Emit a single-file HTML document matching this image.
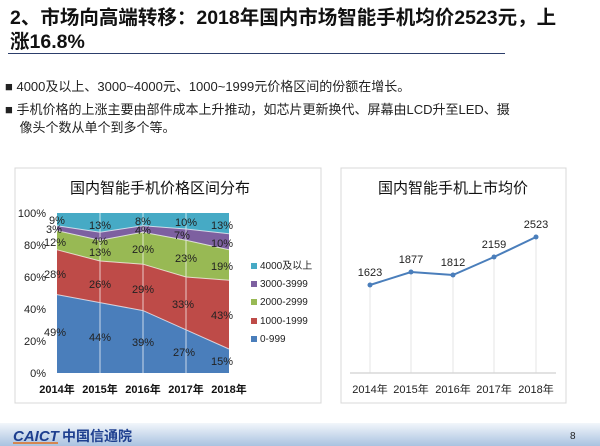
<!DOCTYPE html>
<html><head><meta charset="utf-8"><style>
body{margin:0;width:600px;height:446px;background:#fff;position:relative;overflow:hidden;font-family:"Liberation Sans","Noto Sans CJK SC",sans-serif}
.t{position:absolute;white-space:nowrap}
</style></head><body>
<div class="t" style="left:10px;top:6px;font-size:19.5px;font-weight:bold;color:#111;line-height:24px">2、市场向高端转移：2018年国内市场智能手机均价2523元，上<br>涨16.8%</div>
<div style="position:absolute;left:8px;top:53px;width:497px;height:1px;background:#2c3e6b"></div>
<div class="t" style="left:5px;top:76px;font-size:13px;color:#222">■ 4000及以上、3000~4000元、1000~1999元价格区间的份额在增长。</div>
<div class="t" style="left:5px;top:101px;font-size:13px;color:#222;line-height:18px">■ 手机价格的上涨主要由部件成本上升推动，如芯片更新换代、屏幕由LCD升至LED、摄<br>&nbsp;&nbsp;&nbsp;&nbsp;像头个数从单个到多个等。</div>
<svg style="position:absolute;left:0;top:0" width="600" height="446" font-family="Liberation Sans, Noto Sans CJK SC, sans-serif">
<rect x="15" y="168" width="306" height="235" fill="none" stroke="#d8d8d8"/>
<rect x="341" y="168" width="225" height="235" fill="none" stroke="#d8d8d8"/>
<text x="160" y="193" font-size="15" text-anchor="middle" fill="#111">国内智能手机价格区间分布</text>
<text x="453" y="193" font-size="15" text-anchor="middle" fill="#111">国内智能手机上市均价</text>
<g>
<polygon points="57,213 100,213 143,213 186,213 229,213 229,373 57,373" fill="#46aac5"/>
<polygon points="57,225.8 100,232.2 143,225.8 186,229 229,233.8 229,373 57,373" fill="#7d60a0"/>
<polygon points="57,230.6 100,240.2 143,232.2 186,240.2 229,249.8 229,373 57,373" fill="#98b954"/>
<polygon points="57,249.8 100,261 143,264.2 186,277 229,280.2 229,373 57,373" fill="#be4b48"/>
<polygon points="57,294.6 100,302.6 143,310.6 186,329.8 229,349 229,373 57,373" fill="#4a7ebb"/>
<g stroke="#fff" stroke-width="1" opacity="0.7" fill="none">
<line x1="100" y1="213" x2="100" y2="373"/><line x1="143" y1="213" x2="143" y2="373"/><line x1="186" y1="213" x2="186" y2="373"/>
<polyline points="57,225.8 100,232.2 143,225.8 186,229 229,233.8"/>
<polyline points="57,230.6 100,240.2 143,232.2 186,240.2 229,249.8"/>
<polyline points="57,249.8 100,261 143,264.2 186,277 229,280.2"/>
<polyline points="57,294.6 100,302.6 143,310.6 186,329.8 229,349"/>
</g>
</g>
<g font-size="11" fill="#222" text-anchor="end">
<text x="46" y="217">100%</text><text x="46" y="249">80%</text><text x="46" y="281">60%</text><text x="46" y="313">40%</text><text x="46" y="345">20%</text><text x="46" y="377">0%</text>
</g>
<g font-size="11" fill="#222" text-anchor="middle">
<text x="57" y="224">9%</text><text x="54" y="233">3%</text><text x="55" y="246">12%</text><text x="55" y="278">28%</text><text x="55" y="336">49%</text>
<text x="100" y="229">13%</text><text x="100" y="245">4%</text><text x="100" y="256">13%</text><text x="100" y="288">26%</text><text x="100" y="341">44%</text>
<text x="143" y="225">8%</text><text x="143" y="234">4%</text><text x="143" y="253">20%</text><text x="143" y="293">29%</text><text x="143" y="346">39%</text>
<text x="186" y="226">10%</text><text x="182" y="239">7%</text><text x="186" y="262">23%</text><text x="183" y="308">33%</text><text x="184" y="356">27%</text>
<text x="222" y="229">13%</text><text x="222" y="247">10%</text><text x="222" y="270">19%</text><text x="222" y="319">43%</text><text x="222" y="365">15%</text>
</g>
<g font-size="11" font-weight="bold" fill="#111" text-anchor="middle">
<text x="57" y="393">2014年</text><text x="100" y="393">2015年</text><text x="143" y="393">2016年</text><text x="186" y="393">2017年</text><text x="229" y="393">2018年</text>
</g>
<g font-size="10" fill="#222">
<rect x="251" y="263" width="6" height="6" fill="#46aac5"/><text x="260" y="269">4000及以上</text>
<rect x="251" y="281" width="6" height="6" fill="#7d60a0"/><text x="260" y="287">3000-3999</text>
<rect x="251" y="299" width="6" height="6" fill="#98b954"/><text x="260" y="305">2000-2999</text>
<rect x="251" y="318" width="6" height="6" fill="#be4b48"/><text x="260" y="324">1000-1999</text>
<rect x="251" y="336" width="6" height="6" fill="#4a7ebb"/><text x="260" y="342">0-999</text>
</g>
<g stroke="#e4e4e4"><line x1="370" y1="285" x2="370" y2="373"/><line x1="411" y1="272" x2="411" y2="373"/><line x1="453" y1="275" x2="453" y2="373"/><line x1="494" y1="257" x2="494" y2="373"/><line x1="536" y1="237" x2="536" y2="373"/></g>
<line x1="350" y1="373" x2="556" y2="373" stroke="#d8d8d8" stroke-width="1.5"/>
<polyline points="370,285 411,272 453,275 494,257 536,237" fill="none" stroke="#4a7ebb" stroke-width="2"/>
<g fill="#4a7ebb"><circle cx="370" cy="285" r="2.5"/><circle cx="411" cy="272" r="2.5"/><circle cx="453" cy="275" r="2.5"/><circle cx="494" cy="257" r="2.5"/><circle cx="536" cy="237" r="2.5"/></g>
<g font-size="11" fill="#222" text-anchor="middle">
<text x="370" y="276">1623</text><text x="411" y="263">1877</text><text x="453" y="266">1812</text><text x="494" y="248">2159</text><text x="536" y="228">2523</text>
<text x="370" y="393">2014年</text><text x="411" y="393">2015年</text><text x="453" y="393">2016年</text><text x="494" y="393">2017年</text><text x="536" y="393">2018年</text>
</g>
<defs><linearGradient id="g" x1="0" y1="0" x2="0" y2="1"><stop offset="0" stop-color="#f2f6fb"/><stop offset="1" stop-color="#a9c2e0"/></linearGradient></defs>
<rect x="0" y="423" width="600" height="23" fill="url(#g)"/>
<text x="13" y="441" font-size="15" font-weight="bold" fill="#1e3f8f" font-style="italic">CAICT</text>
<line x1="13" y1="443" x2="58" y2="443" stroke="#e07020" stroke-width="1.5"/>
<text x="62" y="441" font-size="14" font-weight="bold" fill="#1e3f8f">中国信通院</text>
<text x="570" y="439" font-size="10" fill="#222">8</text>
</svg>
</body></html>
